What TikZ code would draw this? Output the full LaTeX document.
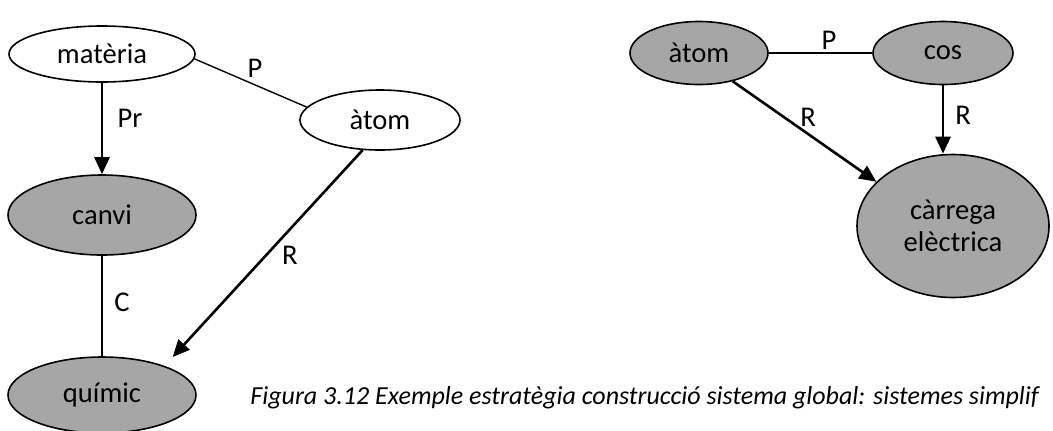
\documentclass[tikz,border=0pt]{standalone}
\usepackage{fontspec}
\setmainfont{Carlito}
\usetikzlibrary{shapes.geometric,arrows.meta}
\definecolor{conceptgray}{RGB}{166,166,166}

\begin{document}
\begin{tikzpicture}
[
x=0.5pt, y=-0.5pt,
font=\fontsize{14.3}{16}\selectfont,
concept/.style={ellipse, draw=black, line width=0.8pt, fill=white, inner sep=0pt},
given/.style={concept, fill=conceptgray},
tbox/.style={rectangle, inner sep=1pt},
rel/.style={line width=1.3pt, -{Triangle[length=8.5pt,width=7.5pt]}},
link/.style={line width=0.7pt},
]
\clip (0,0) rectangle (1053,430);

% matter system
\node at (102,54) [concept, minimum width=93pt, minimum height=28pt]      (materia)     {matèria};
\node at (380,120) [concept, minimum width=80pt, minimum height=30pt]      (atomA)     {àtom};
\node at (102,215) [given, minimum width=94pt, minimum height=40pt]      (canvi)     {canvi};
\node at (102,395) [given, minimum width=94pt, minimum height=38pt]      (quimic)     {químic};

\draw[link] (materia.-3) -- (atomA.170);
\node at (255,68) [tbox]      (lblP)     {P};
\draw[rel] (materia) -- (canvi);
\node at (130,118) [tbox]      (lblPr)     {Pr};
\draw[link] (canvi) -- (quimic);
\node at (122,302) [tbox]      (lblC)     {C};
\draw[rel, shorten >=6pt] (atomA.240) -- (quimic.25);
\node at (290,255) [tbox]      (lblR)     {R};

% charge system
\node at (699,53) [given, minimum width=69pt, minimum height=31.5pt]      (atomB)     {àtom};
\node at (943,53) [given, minimum width=70pt, minimum height=31.5pt]      (cos)     {cos};
\node at (953,226) [given, minimum width=96pt, minimum height=71.5pt, align=center]      (carrega)     {càrrega\\elèctrica};

\draw[link] (atomB) -- (cos);
\node at (829,40) [tbox]      (lblP2)     {P};
\draw[rel] (atomB.-40) -- (carrega.150);
\node at (808,117) [tbox]      (lblR2)     {R};
\draw[rel] (cos.south) -- (cos.south |- carrega.north);
\node at (963,115) [tbox]      (lblR3)     {R};

\node at (248,398) [tbox, anchor=west, font=\fontsize{13}{15}\selectfont\itshape]      (caption)     {Figura 3.12 Exemple estratègia construcció sistema global: sistemes simplif};
\end{tikzpicture}
\end{document}
